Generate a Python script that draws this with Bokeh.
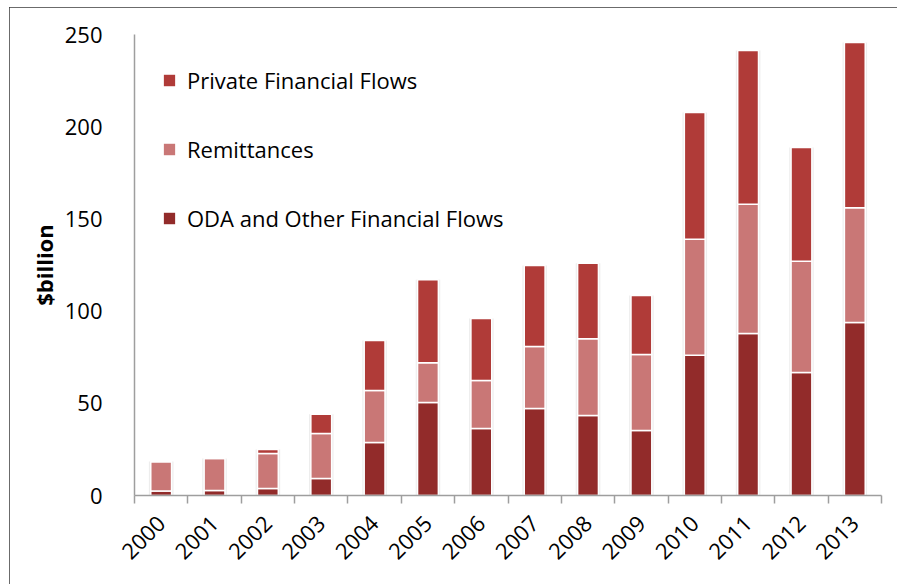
from bokeh.plotting import figure
from bokeh.models import Range1d, FixedTicker, Legend, LegendItem, ColumnDataSource
from bokeh.embed import file_html
from bokeh.resources import INLINE
import math

years = [2000, 2001, 2002, 2003, 2004, 2005, 2006, 2007, 2008, 2009, 2010, 2011, 2012, 2013]
oda = [2.5, 2.7, 3.8, 9.2, 28.7, 50.4, 36.3, 47.2, 43.4, 35.2, 76.0, 87.9, 66.7, 93.8]
remittances = [15.8, 17.3, 19.0, 24.4, 28.3, 21.6, 26.1, 33.6, 41.6, 41.3, 63.0, 70.1, 60.3, 62.2]
private = [0.2, 0.0, 2.2, 10.4, 27.0, 45.0, 33.6, 43.9, 41.0, 32.0, 68.7, 83.3, 61.7, 89.6]
series_names = ["ODA and Other Financial Flows", "Remittances", "Private Financial Flows"]
y_ticks = [0, 50, 100, 150, 200, 250]

FONT = "Open Sans"
colors = ["#922B2A", "#C97776", "#B03B38"]

src = ColumnDataSource(dict(x=years, oda=oda, remittances=remittances, private=private,
                            total=[a + b + c for a, b, c in zip(oda, remittances, private)]))

p = figure(width=900, height=590, output_backend="svg", toolbar_location=None,
           x_range=Range1d(years[0] - 0.5, years[-1] + 0.5), y_range=Range1d(0, 250),
           min_border_left=125, min_border_right=28, min_border_top=27, min_border_bottom=102)
p.styles = {"box-shadow": "inset 2px 2px 0 0 #3a3a3a",
            "margin-left": "9px", "margin-top": "7px"}
p.outline_line_color = None
p.xgrid.grid_line_color = None
p.ygrid.grid_line_color = None

# soft shadow behind each stacked bar
p.vbar(x="x", top="total", bottom=0, width=0.46, source=src,
       fill_color="#e6e6e6", line_color=None, fill_alpha=0.7)

rs = p.vbar_stack(["oda", "remittances", "private"], x="x", width=0.39, source=src,
                  color=colors, line_color="white", line_width=1.5)

legend = Legend(items=[LegendItem(label=series_names[2], renderers=[rs[2]]),
                       LegendItem(label=series_names[1], renderers=[rs[1]]),
                       LegendItem(label=series_names[0], renderers=[rs[0]])],
                location="top_left")
legend.margin = 27
legend.padding = 0
legend.spacing = 31
legend.glyph_width = 16
legend.glyph_height = 16
legend.label_height = 38
legend.label_standoff = 10
legend.label_text_font = FONT
legend.label_text_font_size = "22px"
legend.label_text_color = "black"
legend.background_fill_alpha = 0
legend.border_line_color = None
p.add_layout(legend)

# y axis
ya = p.yaxis[0]
ya.ticker = FixedTicker(ticks=y_ticks)
ya.axis_line_color = "#9e9e9e"
ya.axis_line_width = 1.5
ya.major_tick_line_color = None
ya.minor_tick_line_color = None
ya.major_label_text_font = FONT
ya.major_label_text_font_size = "22px"
ya.major_label_text_color = "black"
ya.major_label_standoff = 26
ya.axis_label = "$billion"
ya.axis_label_text_font = FONT
ya.axis_label_text_font_size = "22px"
ya.axis_label_text_font_style = "bold"
ya.axis_label_text_color = "black"
ya.axis_label_standoff = 3

# x axis
xa = p.xaxis[0]
xa.ticker = FixedTicker(ticks=years, minor_ticks=[y - 0.5 for y in years] + [years[-1] + 0.5])
xa.major_label_overrides = {y: str(y) for y in years}
xa.axis_line_color = "#9e9e9e"
xa.axis_line_width = 1.5
xa.major_tick_line_color = None
xa.minor_tick_line_color = "#9e9e9e"
xa.minor_tick_line_width = 1.5
xa.minor_tick_out = 8
xa.minor_tick_in = 0
xa.major_label_orientation = math.pi / 4
xa.major_label_text_font = FONT
xa.major_label_text_font_size = "22px"
xa.major_label_text_color = "black"
xa.major_label_standoff = 16

open("out.html", "w").write(file_html(p, INLINE))
